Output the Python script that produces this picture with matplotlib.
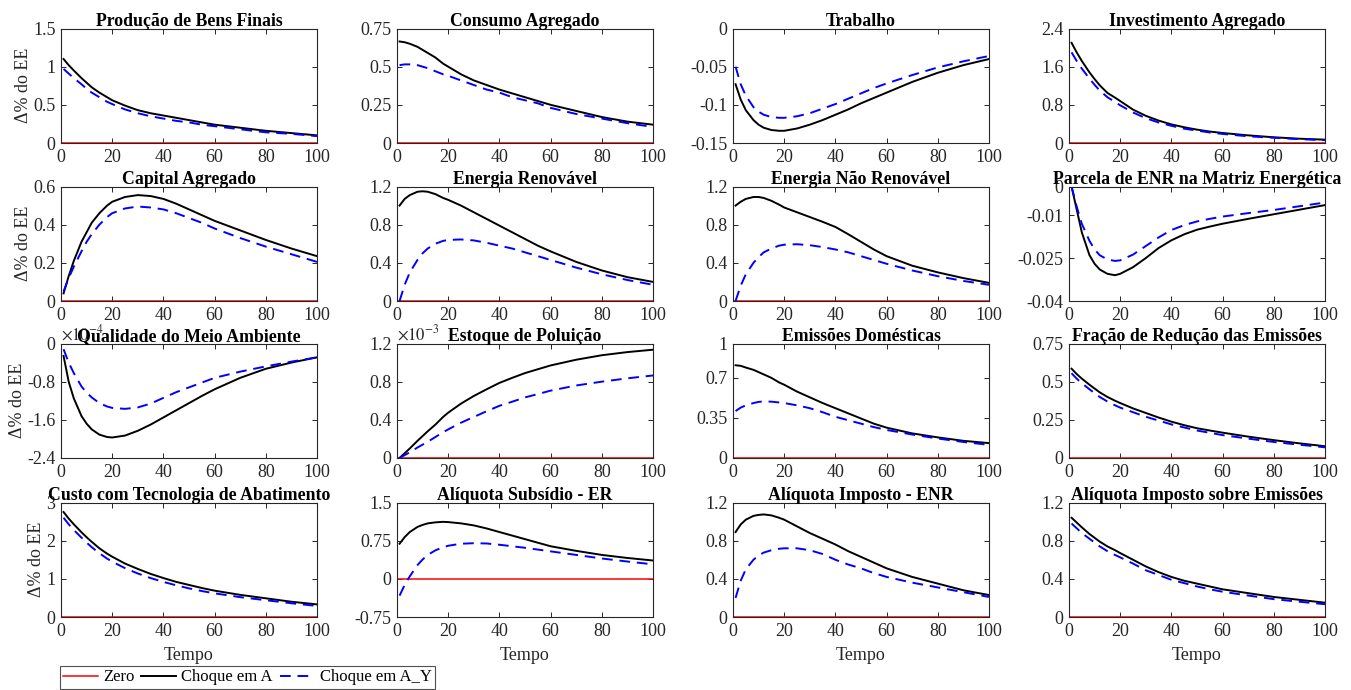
import numpy as np
import matplotlib
matplotlib.use('Agg')
import matplotlib.pyplot as plt

plt.rcParams['font.family'] = ['Liberation Serif', 'DejaVu Serif']
plt.rcParams['mathtext.fontset'] = 'stix'
plt.rcParams['axes.unicode_minus'] = False

# periodos
t = [1, 3, 5, 8, 10, 12, 15, 18, 20, 25, 30, 35, 40, 45, 50, 55, 60, 70, 80, 90, 100]

producao_a  = [1.10, 1.02, 0.95, 0.85, 0.79, 0.73, 0.66, 0.60, 0.56, 0.49, 0.43, 0.39, 0.36, 0.33, 0.30, 0.27, 0.24, 0.20, 0.16, 0.13, 0.10]
producao_ay = [0.97, 0.91, 0.85, 0.77, 0.71, 0.66, 0.60, 0.54, 0.51, 0.44, 0.39, 0.35, 0.32, 0.29, 0.27, 0.24, 0.22, 0.18, 0.14, 0.12, 0.09]

consumo_a  = [0.665, 0.66, 0.65, 0.63, 0.61, 0.59, 0.56, 0.52, 0.50, 0.45, 0.41, 0.38, 0.35, 0.325, 0.30, 0.275, 0.25, 0.21, 0.17, 0.14, 0.12]
consumo_ay = [0.51, 0.515, 0.515, 0.51, 0.50, 0.49, 0.47, 0.45, 0.44, 0.41, 0.38, 0.35, 0.33, 0.30, 0.28, 0.26, 0.23, 0.19, 0.16, 0.13, 0.105]

trabalho_a  = [-0.073, -0.093, -0.107, -0.120, -0.126, -0.130, -0.133, -0.134, -0.134, -0.131, -0.126, -0.120, -0.113, -0.106, -0.098, -0.091, -0.084, -0.070, -0.058, -0.048, -0.040]
trabalho_ay = [-0.050, -0.073, -0.088, -0.103, -0.109, -0.113, -0.116, -0.117, -0.117, -0.115, -0.111, -0.105, -0.099, -0.092, -0.085, -0.078, -0.072, -0.061, -0.051, -0.043, -0.036]

invest_a  = [2.10, 1.90, 1.72, 1.48, 1.34, 1.21, 1.05, 0.95, 0.88, 0.70, 0.57, 0.47, 0.39, 0.33, 0.28, 0.24, 0.21, 0.16, 0.12, 0.09, 0.07]
invest_ay = [1.90, 1.72, 1.56, 1.35, 1.22, 1.10, 0.96, 0.86, 0.79, 0.64, 0.52, 0.43, 0.36, 0.30, 0.26, 0.22, 0.19, 0.14, 0.11, 0.08, 0.06]

capital_a  = [0.04, 0.13, 0.21, 0.31, 0.36, 0.41, 0.46, 0.50, 0.52, 0.545, 0.555, 0.55, 0.535, 0.51, 0.48, 0.45, 0.42, 0.37, 0.32, 0.275, 0.235]
capital_ay = [0.05, 0.12, 0.18, 0.26, 0.31, 0.35, 0.40, 0.44, 0.46, 0.485, 0.495, 0.49, 0.48, 0.46, 0.435, 0.41, 0.38, 0.33, 0.285, 0.245, 0.205]

renov_a  = [1.00, 1.07, 1.11, 1.145, 1.15, 1.145, 1.12, 1.08, 1.06, 1.00, 0.93, 0.86, 0.79, 0.72, 0.65, 0.58, 0.52, 0.41, 0.32, 0.25, 0.20]
renov_ay = [0.00, 0.17, 0.30, 0.43, 0.50, 0.55, 0.60, 0.63, 0.64, 0.645, 0.635, 0.61, 0.58, 0.55, 0.51, 0.47, 0.43, 0.35, 0.28, 0.22, 0.17]

naorenov_a  = [1.00, 1.04, 1.07, 1.09, 1.09, 1.08, 1.05, 1.01, 0.98, 0.93, 0.88, 0.83, 0.776, 0.70, 0.62, 0.54, 0.47, 0.37, 0.30, 0.24, 0.19]
naorenov_ay = [0.00, 0.16, 0.28, 0.40, 0.46, 0.51, 0.55, 0.58, 0.59, 0.595, 0.585, 0.565, 0.54, 0.51, 0.47, 0.43, 0.39, 0.32, 0.26, 0.21, 0.17]

parcela_a  = [0.000, -0.008, -0.016, -0.024, -0.027, -0.029, -0.0305, -0.031, -0.0305, -0.0282, -0.025, -0.0215, -0.0188, -0.0167, -0.0151, -0.0140, -0.0130, -0.0113, -0.0097, -0.0081, -0.0065]
parcela_ay = [0.000, -0.007, -0.013, -0.019, -0.022, -0.024, -0.0255, -0.026, -0.0258, -0.0238, -0.0208, -0.0178, -0.0152, -0.0135, -0.0122, -0.0113, -0.0105, -0.0093, -0.0082, -0.0069, -0.0056]

# em unidades de 1e-4
qualidade_a  = [-0.26, -0.80, -1.15, -1.52, -1.68, -1.80, -1.91, -1.96, -1.97, -1.93, -1.83, -1.70, -1.55, -1.40, -1.25, -1.10, -0.96, -0.72, -0.53, -0.40, -0.29]
qualidade_ay = [-0.12, -0.40, -0.62, -0.90, -1.03, -1.13, -1.25, -1.32, -1.35, -1.37, -1.34, -1.26, -1.14, -1.02, -0.92, -0.82, -0.72, -0.59, -0.48, -0.38, -0.29]

# em unidades de 1e-3
estoque_a  = [0.00, 0.05, 0.10, 0.18, 0.23, 0.28, 0.35, 0.43, 0.475, 0.57, 0.65, 0.72, 0.787, 0.84, 0.89, 0.93, 0.97, 1.03, 1.077, 1.11, 1.135]
estoque_ay = [0.00, 0.03, 0.06, 0.11, 0.14, 0.17, 0.22, 0.27, 0.30, 0.37, 0.43, 0.49, 0.547, 0.59, 0.635, 0.67, 0.706, 0.76, 0.80, 0.835, 0.865]

emissoes_a  = [0.81, 0.805, 0.79, 0.77, 0.75, 0.73, 0.70, 0.66, 0.64, 0.58, 0.53, 0.48, 0.435, 0.39, 0.345, 0.30, 0.265, 0.215, 0.18, 0.15, 0.13]
emissoes_ay = [0.41, 0.44, 0.46, 0.48, 0.49, 0.494, 0.492, 0.485, 0.48, 0.46, 0.435, 0.40, 0.36, 0.33, 0.30, 0.27, 0.245, 0.205, 0.17, 0.14, 0.115]

fracao_a  = [0.585, 0.55, 0.52, 0.48, 0.455, 0.43, 0.40, 0.375, 0.36, 0.325, 0.295, 0.265, 0.238, 0.215, 0.195, 0.18, 0.166, 0.14, 0.117, 0.096, 0.077]
fracao_ay = [0.555, 0.52, 0.49, 0.45, 0.425, 0.40, 0.37, 0.345, 0.33, 0.30, 0.27, 0.245, 0.22, 0.20, 0.18, 0.165, 0.15, 0.127, 0.105, 0.087, 0.07]

custo_a  = [2.75, 2.58, 2.43, 2.22, 2.09, 1.97, 1.80, 1.66, 1.58, 1.40, 1.26, 1.13, 1.02, 0.92, 0.84, 0.76, 0.69, 0.58, 0.49, 0.40, 0.33]
custo_ay = [2.60, 2.43, 2.28, 2.08, 1.95, 1.83, 1.67, 1.53, 1.45, 1.28, 1.14, 1.02, 0.92, 0.83, 0.75, 0.68, 0.62, 0.52, 0.44, 0.36, 0.29]

subsidio_a  = [0.69, 0.82, 0.92, 1.02, 1.06, 1.09, 1.11, 1.12, 1.115, 1.09, 1.05, 0.99, 0.92, 0.85, 0.78, 0.71, 0.64, 0.55, 0.47, 0.41, 0.36]
subsidio_ay = [-0.33, -0.12, 0.05, 0.27, 0.38, 0.47, 0.56, 0.62, 0.65, 0.69, 0.70, 0.695, 0.67, 0.64, 0.61, 0.575, 0.54, 0.47, 0.40, 0.34, 0.285]

impenr_a  = [0.89, 0.97, 1.02, 1.06, 1.07, 1.075, 1.065, 1.04, 1.02, 0.95, 0.88, 0.82, 0.76, 0.69, 0.63, 0.57, 0.51, 0.42, 0.35, 0.28, 0.23]
impenr_ay = [0.20, 0.38, 0.50, 0.60, 0.645, 0.675, 0.70, 0.715, 0.72, 0.72, 0.70, 0.66, 0.60, 0.55, 0.51, 0.46, 0.42, 0.36, 0.31, 0.26, 0.21]

impemis_a  = [1.04, 0.99, 0.94, 0.87, 0.83, 0.79, 0.74, 0.70, 0.67, 0.60, 0.53, 0.47, 0.42, 0.38, 0.35, 0.32, 0.29, 0.25, 0.21, 0.18, 0.15]
impemis_ay = [0.98, 0.93, 0.88, 0.82, 0.78, 0.74, 0.69, 0.65, 0.625, 0.56, 0.49, 0.44, 0.39, 0.355, 0.32, 0.29, 0.265, 0.225, 0.187, 0.16, 0.134]

titulos = ['Produção de Bens Finais', 'Consumo Agregado', 'Trabalho', 'Investimento Agregado',
           'Capital Agregado', 'Energia Renovável', 'Energia Não Renovável', 'Parcela de ENR na Matriz Energética',
           'Qualidade do Meio Ambiente', 'Estoque de Poluição', 'Emissões Domésticas', 'Fração de Redução das Emissões',
           'Custo com Tecnologia de Abatimento', 'Alíquota Subsídio - ER', 'Alíquota Imposto - ENR', 'Alíquota Imposto sobre Emissões']

serie_a = [producao_a, consumo_a, trabalho_a, invest_a, capital_a, renov_a, naorenov_a, parcela_a,
           qualidade_a, estoque_a, emissoes_a, fracao_a, custo_a, subsidio_a, impenr_a, impemis_a]
serie_ay = [producao_ay, consumo_ay, trabalho_ay, invest_ay, capital_ay, renov_ay, naorenov_ay, parcela_ay,
            qualidade_ay, estoque_ay, emissoes_ay, fracao_ay, custo_ay, subsidio_ay, impenr_ay, impemis_ay]

yticks = [[0, 0.5, 1, 1.5], [0, 0.25, 0.5, 0.75], [-0.15, -0.1, -0.05, 0], [0, 0.8, 1.6, 2.4],
          [0, 0.2, 0.4, 0.6], [0, 0.4, 0.8, 1.2], [0, 0.4, 0.8, 1.2], [-0.04, -0.025, -0.01, 0],
          [-2.4, -1.6, -0.8, 0], [0, 0.4, 0.8, 1.2], [0, 0.35, 0.7, 1], [0, 0.25, 0.5, 0.75],
          [0, 1, 2, 3], [-0.75, 0, 0.75, 1.5], [0, 0.4, 0.8, 1.2], [0, 0.4, 0.8, 1.2]]
ylabels_txt = [['0', '0.5', '1', '1.5'], ['0', '0.25', '0.5', '0.75'], ['-0.15', '-0.1', '-0.05', '0'], ['0', '0.8', '1.6', '2.4'],
               ['0', '0.2', '0.4', '0.6'], ['0', '0.4', '0.8', '1.2'], ['0', '0.4', '0.8', '1.2'], ['-0.04', '-0.025', '-0.01', '0'],
               ['-2.4', '-1.6', '-0.8', '0'], ['0', '0.4', '0.8', '1.2'], ['0', '0.35', '0.7', '1'], ['0', '0.25', '0.5', '0.75'],
               ['0', '1', '2', '3'], ['-0.75', '0', '0.75', '1.5'], ['0', '0.4', '0.8', '1.2'], ['0', '0.4', '0.8', '1.2']]
expoentes = {8: r'$\times10^{-4}$', 9: r'$\times10^{-3}$'}

W, H = 1351, 690
fig = plt.figure(figsize=(W / 100, H / 100), dpi=100)
esq = [61, 397, 733, 1069]
topo = [28.5, 186.5, 343.5, 502.5]
larg, alt = 256, 114.5
cinza = '#262626'

for i in range(16):
    r, c = divmod(i, 4)
    ax = fig.add_axes([esq[c] / W, 1 - (topo[r] + alt) / H, larg / W, alt / H])
    l0, = ax.plot([0, 100], [0, 0], color='#ff0000', lw=1.1)
    l1, = ax.plot(t, serie_a[i], color='k', lw=1.4)
    l2, = ax.plot(t, serie_ay[i], color='#0000ff', lw=1.4, ls=(0, (5.5, 3.5)))
    ax.set_xlim(0, 100)
    ax.set_ylim(yticks[i][0], yticks[i][-1])
    ax.set_xticks([0, 20, 40, 60, 80, 100])
    ax.set_yticks(yticks[i])
    ax.set_yticklabels(ylabels_txt[i])
    ax.tick_params(direction='in', top=True, right=True, length=3.5, width=0.7,
                   labelsize=13, colors=cinza, labelcolor=cinza)
    ax.tick_params(axis='x', pad=4.5)
    ax.tick_params(axis='y', pad=4)
    for s in ax.spines.values():
        s.set_color(cinza)
        s.set_linewidth(0.8)
    ax.set_title(titulos[i], fontsize=12.8, fontweight='bold', pad=1.5)
    if c == 0:
        ax.set_ylabel('Δ% do EE', fontsize=13, color=cinza, labelpad=1)
    if r == 3:
        ax.set_xlabel('Tempo', fontsize=13, color=cinza, labelpad=5)
    if i in expoentes:
        ax.text(0.0, 1.0, expoentes[i], transform=ax.transAxes, fontsize=12,
                color=cinza, ha='left', va='bottom')

leg = fig.legend([l0, l1, l2], ['Zero', 'Choque em A', 'Choque em A_Y'], ncol=3,
                 loc='upper left', bbox_to_anchor=(60 / W, 1 - 666 / H), fontsize=12,
                 frameon=True, fancybox=False, edgecolor=cinza, handlelength=2.1,
                 handletextpad=0.3, columnspacing=0.4, borderpad=0.2, borderaxespad=0)
leg.get_frame().set_linewidth(0.8)

fig.savefig('out.png', dpi=100)
